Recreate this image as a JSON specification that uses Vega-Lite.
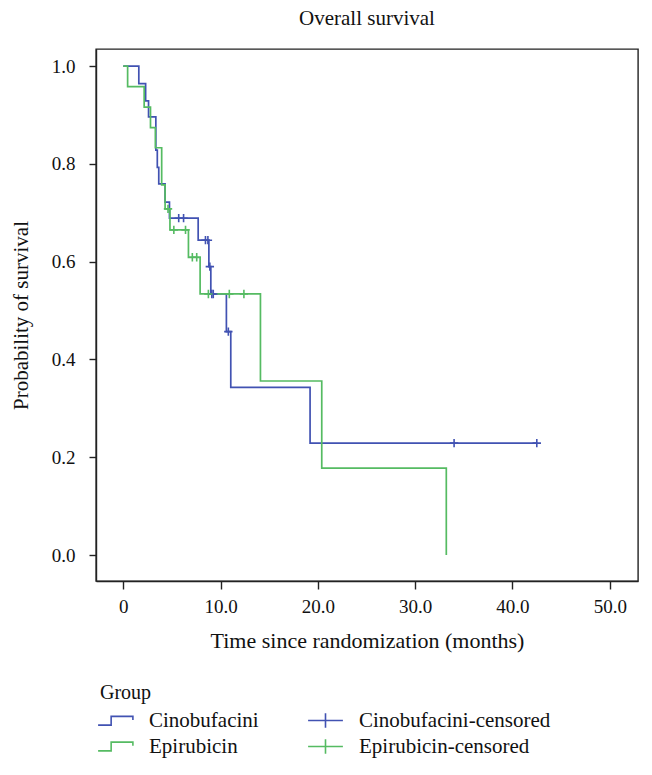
{
  "$schema": "https://vega.github.io/schema/vega-lite/v6.json",
  "autosize": {"type": "none"},
  "padding": {"left": 96, "top": 49, "right": 14, "bottom": 194},
  "width": 542,
  "height": 532,
  "background": "white",
  "config": {
    "font": "Liberation Serif",
    "view": {"stroke": "#222222", "strokeWidth": 1.4},
    "axis": {"grid": false, "domainColor": "#222222", "tickColor": "#222222", "labelColor": "#111111", "titleColor": "#111111", "labelFont": "Liberation Serif", "titleFont": "Liberation Serif", "titleFontWeight": "normal", "labelFontSize": 19, "titleFontSize": 21, "domainWidth": 1.4, "tickWidth": 1.4}
  },
  "title": {"text": "Overall survival", "fontSize": 21, "fontWeight": "normal", "font": "Liberation Serif", "color": "#111111", "offset": 20, "anchor": "middle"},
  "data": {"values": [
    {"group": "Cinobufacini", "kind": "step", "t": 0, "s": 1.0},
    {"group": "Cinobufacini", "kind": "step", "t": 1.6, "s": 0.964},
    {"group": "Cinobufacini", "kind": "step", "t": 2.3, "s": 0.929},
    {"group": "Cinobufacini", "kind": "step", "t": 2.6, "s": 0.896},
    {"group": "Cinobufacini", "kind": "step", "t": 3.35, "s": 0.828},
    {"group": "Cinobufacini", "kind": "step", "t": 3.5, "s": 0.793},
    {"group": "Cinobufacini", "kind": "step", "t": 3.65, "s": 0.759},
    {"group": "Cinobufacini", "kind": "step", "t": 4.3, "s": 0.722},
    {"group": "Cinobufacini", "kind": "step", "t": 4.75, "s": 0.689},
    {"group": "Cinobufacini", "kind": "step", "t": 7.7, "s": 0.644},
    {"group": "Cinobufacini", "kind": "step", "t": 8.8, "s": 0.59},
    {"group": "Cinobufacini", "kind": "step", "t": 9.0, "s": 0.534},
    {"group": "Cinobufacini", "kind": "step", "t": 10.6, "s": 0.457},
    {"group": "Cinobufacini", "kind": "step", "t": 11.05, "s": 0.343},
    {"group": "Cinobufacini", "kind": "step", "t": 19.2, "s": 0.229},
    {"group": "Cinobufacini", "kind": "step", "t": 42.5, "s": 0.229},
    {"group": "Epirubicin", "kind": "step", "t": 0, "s": 1.0},
    {"group": "Epirubicin", "kind": "step", "t": 0.45, "s": 0.958},
    {"group": "Epirubicin", "kind": "step", "t": 2.15, "s": 0.916},
    {"group": "Epirubicin", "kind": "step", "t": 2.8, "s": 0.874},
    {"group": "Epirubicin", "kind": "step", "t": 3.3, "s": 0.833},
    {"group": "Epirubicin", "kind": "step", "t": 3.95, "s": 0.757},
    {"group": "Epirubicin", "kind": "step", "t": 4.3, "s": 0.708},
    {"group": "Epirubicin", "kind": "step", "t": 4.8, "s": 0.665},
    {"group": "Epirubicin", "kind": "step", "t": 6.7, "s": 0.609},
    {"group": "Epirubicin", "kind": "step", "t": 7.9, "s": 0.534},
    {"group": "Epirubicin", "kind": "step", "t": 14.1, "s": 0.356},
    {"group": "Epirubicin", "kind": "step", "t": 20.4, "s": 0.178},
    {"group": "Epirubicin", "kind": "step", "t": 33.2, "s": 0.0},
    {"group": "Cinobufacini-censored", "kind": "censor", "t": 5.7, "s": 0.689},
    {"group": "Cinobufacini-censored", "kind": "censor", "t": 6.2, "s": 0.689},
    {"group": "Cinobufacini-censored", "kind": "censor", "t": 8.45, "s": 0.644},
    {"group": "Cinobufacini-censored", "kind": "censor", "t": 8.7, "s": 0.644},
    {"group": "Cinobufacini-censored", "kind": "censor", "t": 8.9, "s": 0.59},
    {"group": "Cinobufacini-censored", "kind": "censor", "t": 9.1, "s": 0.534},
    {"group": "Cinobufacini-censored", "kind": "censor", "t": 9.25, "s": 0.534},
    {"group": "Cinobufacini-censored", "kind": "censor", "t": 10.8, "s": 0.457},
    {"group": "Cinobufacini-censored", "kind": "censor", "t": 34.0, "s": 0.229},
    {"group": "Cinobufacini-censored", "kind": "censor", "t": 42.5, "s": 0.229},
    {"group": "Epirubicin-censored", "kind": "censor", "t": 4.6, "s": 0.708},
    {"group": "Epirubicin-censored", "kind": "censor", "t": 5.2, "s": 0.665},
    {"group": "Epirubicin-censored", "kind": "censor", "t": 6.4, "s": 0.665},
    {"group": "Epirubicin-censored", "kind": "censor", "t": 7.1, "s": 0.609},
    {"group": "Epirubicin-censored", "kind": "censor", "t": 7.55, "s": 0.609},
    {"group": "Epirubicin-censored", "kind": "censor", "t": 8.75, "s": 0.534},
    {"group": "Epirubicin-censored", "kind": "censor", "t": 10.9, "s": 0.534},
    {"group": "Epirubicin-censored", "kind": "censor", "t": 12.4, "s": 0.534}
  ]},
  "encoding": {
    "x": {"field": "t", "type": "quantitative", "scale": {"domain": [-2.8, 52.9], "nice": false, "zero": false},
      "axis": {"title": "Time since randomization (months)", "titleFontSize": 22, "values": [0, 10, 20, 30, 40, 50], "labelExpr": "datum.value == 0 ? '0' : format(datum.value, '.1f')", "tickSize": 8, "labelPadding": 8, "titlePadding": 14}},
    "y": {"field": "s", "type": "quantitative", "scale": {"domain": [-0.053, 1.035], "nice": false, "zero": false},
      "axis": {"title": "Probability of survival", "values": [0, 0.2, 0.4, 0.6, 0.8, 1.0], "format": ".1f", "tickSize": 7, "labelPadding": 14, "titlePadding": 20}},
    "color": {"field": "group", "type": "nominal",
      "scale": {"domain": ["Cinobufacini", "Cinobufacini-censored", "Epirubicin", "Epirubicin-censored"], "range": ["#4152B2", "#4152B2", "#55BB62", "#55BB62"]},
      "legend": {"title": "Group", "orient": "none", "legendX": 4, "legendY": 634, "direction": "horizontal", "columns": 2, "padding": 0,
        "titleFont": "Liberation Serif", "titleFontSize": 20, "titleFontWeight": "normal", "titleColor": "#111111", "titlePadding": 2,
        "labelFont": "Liberation Serif", "labelFontSize": 21, "labelColor": "#111111", "labelOffset": 18, "columnPadding": 45, "rowPadding": 0, "labelLimit": 400,
        "symbolSize": 841, "symbolStrokeWidth": 1.6, "symbolFillColor": "transparent",
        "encode": {"symbols": {"update": {
          "shape": {"signal": "indexof(datum.value, 'censored') >= 0 ? 'M-1.2,0H1.2M0,-0.5V0.5' : 'M-1.2,0.3H-0.3V-0.3H1.2V-0.05'"},
          "size": {"value": 841},
          "fill": {"value": "transparent"},
          "strokeWidth": {"value": 1.6}
        }}}}
    }
  },
  "layer": [
    {"transform": [{"filter": "datum.kind == 'step'"}],
     "mark": {"type": "line", "interpolate": "step-after", "strokeWidth": 1.7}},
    {"transform": [{"filter": "datum.kind == 'censor'"}],
     "mark": {"type": "point", "shape": "M-1,0H1M0,-1V1", "size": 70, "filled": false, "strokeWidth": 1.6, "opacity": 1}}
  ]
}
